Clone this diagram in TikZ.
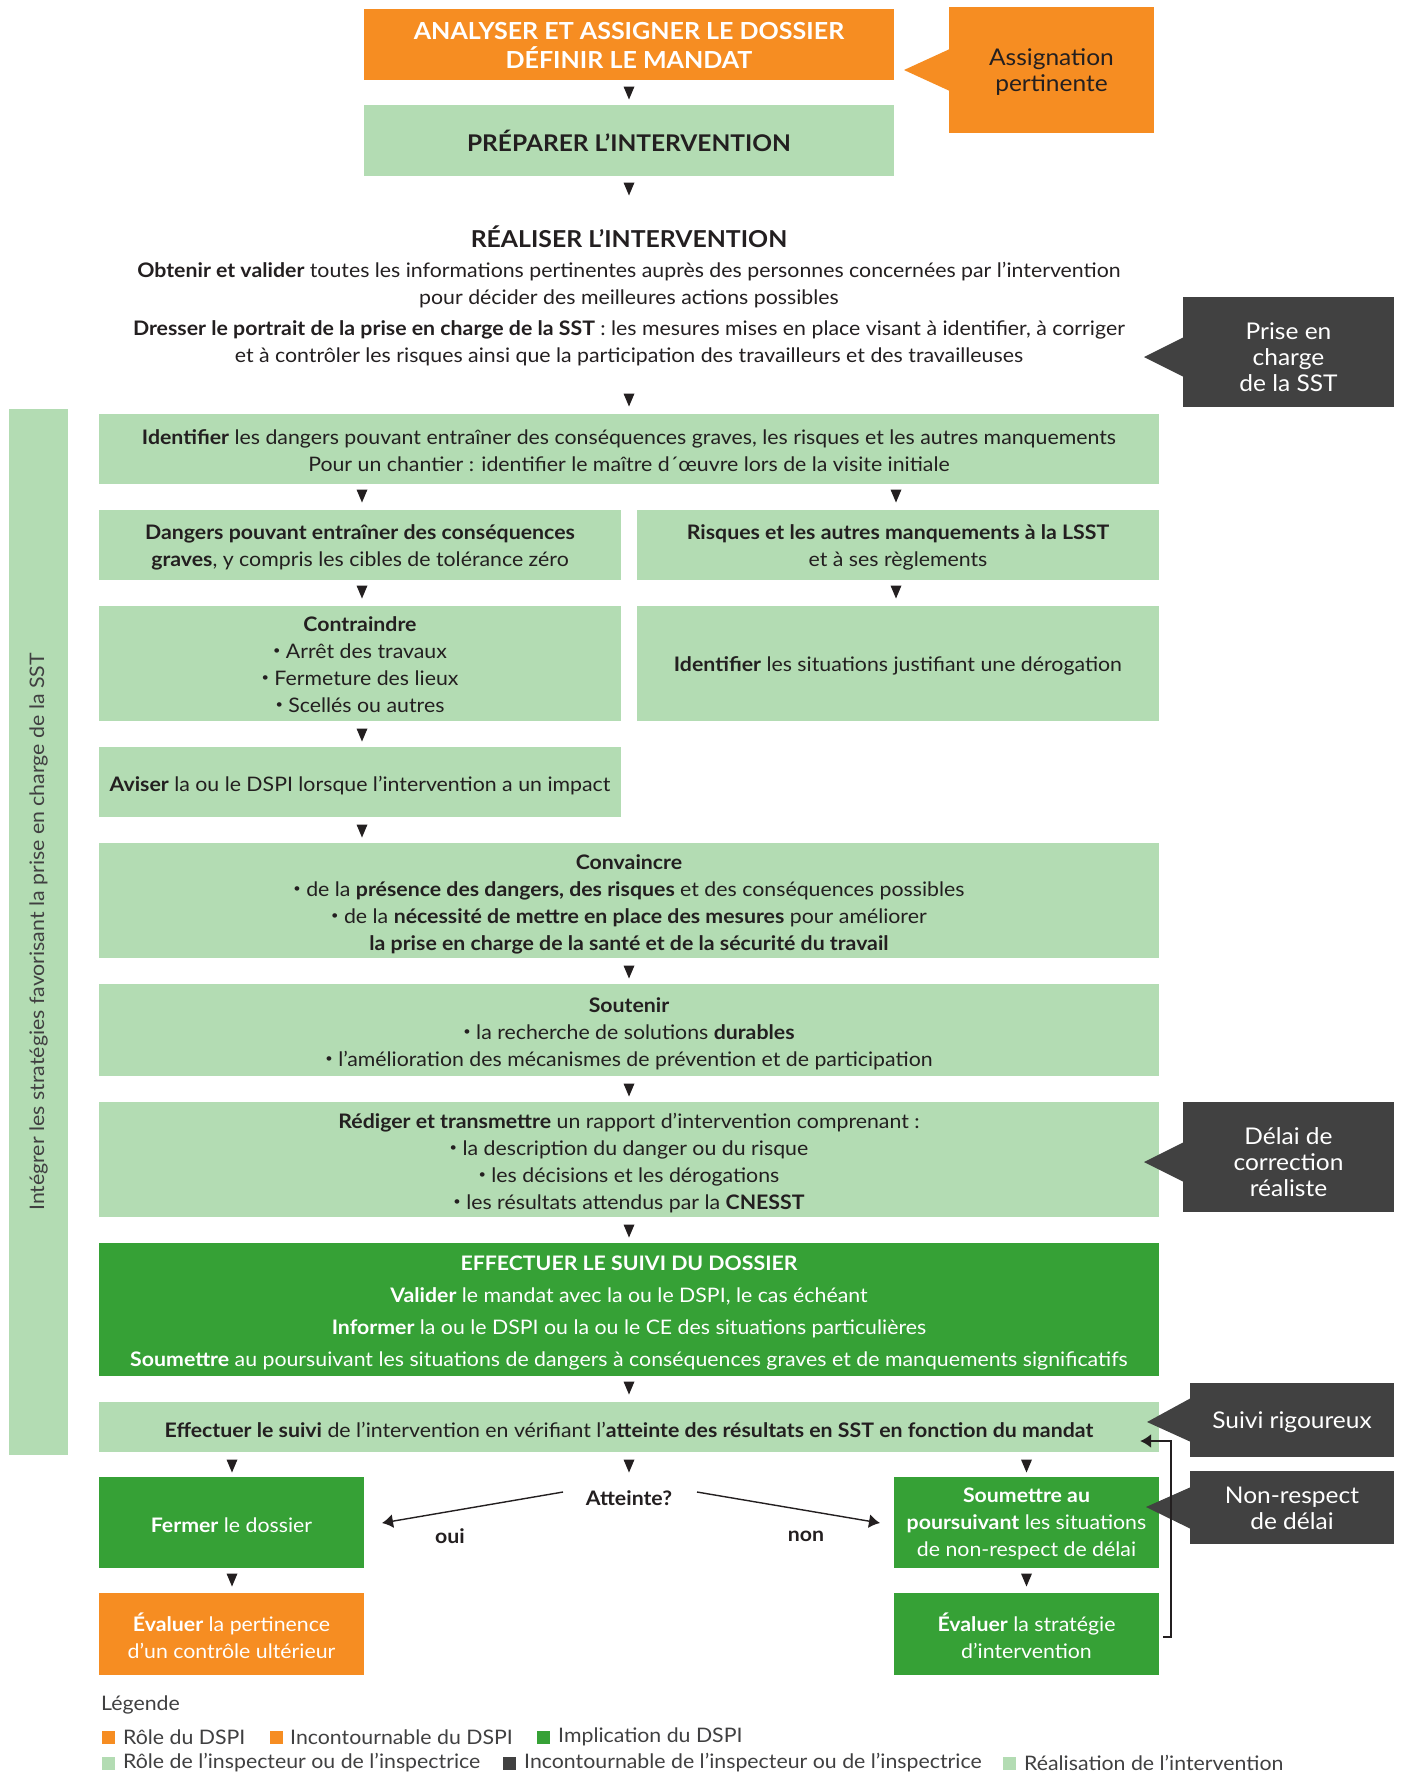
\documentclass[tikz,border=0pt]{standalone}
\usepackage{fontspec}
\setmainfont{Lato}[FakeStretch=1.065]
\usetikzlibrary{arrows.meta}
\definecolor{org}{HTML}{F68D22}
\definecolor{lgr}{HTML}{B3DCB3}
\definecolor{dgr}{HTML}{36A136}
\definecolor{dgy}{HTML}{414141}
\definecolor{txt}{HTML}{231F20}
\definecolor{gtx}{HTML}{404041}
\newcommand\bul{\raisebox{0.22em}{\fontsize{12}{12}\selectfont•}}
% \bx{style}{width}{height}{name}{x,y}{text shift down}{text}
\newcommand\bx[7]{%
  \node[#1, minimum width=#2pt, minimum height=#3pt] (#4) at (#5) {};
  \node[#1, fill=none] (#4-t) at ([yshift=-#6pt]#4.center) {#7};}
\tikzset{
  box/.style={rectangle, inner sep=0pt, align=center, text=txt},
  lgbox/.style={box, fill=lgr},
  dgbox/.style={box, fill=dgr, text=white},
  orbox/.style={box, fill=org, text=white},
  callout/.style={box, fill=dgy, text=white, font=\fontsize{23}{26}\selectfont},
  plain/.style={inner sep=0pt, align=center, text=txt},
  conn/.style={draw=txt, line width=1.4pt, -{Latex[length=11pt,width=14pt]}},
  dtri/.pic={\fill[txt] (-5.5,-6.5) -- (5.5,-6.5) -- (0,6.5) -- cycle;},
  legtx/.style={anchor=west, inner sep=0pt, text=gtx}
}
\begin{document}
\begin{tikzpicture}[x=1pt,y=-1pt,font=\fontsize{20}{27}\selectfont]
\useasboundingbox (0,0) rectangle (1405,1773);
\fill[white] (0,0) rectangle (1405,1773);

% top
\bx{orbox, font=\bfseries\fontsize{23.5}{29.5}\selectfont}{530}{71}{analyser}{629,44.5}{1}{ANALYSER ET ASSIGNER LE DOSSIER\\DÉFINIR LE MANDAT}
\pic at (629,93) {dtri};
\bx{lgbox, font=\bfseries\fontsize{23}{27}\selectfont}{530}{71}{preparer}{629,140.5}{0}{PRÉPARER L’INTERVENTION}
\pic at (629,189) {dtri};

% callout assignation
\bx{box, fill=org, text=txt, font=\fontsize{23}{26}\selectfont}{205}{126}{assign}{1051.5,70}{2.5}{Assignation\\pertinente}
\fill[org] (952,48) -- (904,70) -- (952,92) -- cycle;

% realiser
\node[plain, font=\bfseries\fontsize{23.3}{27}\selectfont] (realiser) at (629,237) {RÉALISER L’INTERVENTION};
\node[plain] (obtenir) at (629,285.5) {\textbf{Obtenir et valider} toutes les informations pertinentes auprès des personnes concernées par l’intervention\\pour décider des meilleures actions possibles};
\node[plain] (dresser) at (629,343.5) {\textbf{Dresser le portrait de la prise en charge de la SST} : les mesures mises en place visant à identifier, à corriger\\et à contrôler les risques ainsi que la participation des travailleurs et des travailleuses};
\pic at (629,400) {dtri};

\bx{callout}{211}{110}{prise}{1288.5,352}{5}{Prise en\\charge\\de la SST}
\fill[dgy] (1184,337) -- (1144,357) -- (1184,377) -- cycle;

% left bar
\node[lgbox, minimum width=59pt, minimum height=1046pt] (bar) at (38.5,932) {};
\node[plain, text=gtx, rotate=90] (bartext) at (bar.center) {Intégrer les stratégies favorisant la prise en charge de la SST};

% identifier
\bx{lgbox}{1060}{70}{ident}{629,449}{2}{\textbf{Identifier} les dangers pouvant entraîner des conséquences graves, les risques et les autres manquements\\Pour un chantier : identifier le maître d´œuvre lors de la visite initiale}
\pic at (362,496) {dtri};
\pic at (896,496) {dtri};

\bx{lgbox}{522}{70}{dangers}{360,545}{2.5}{\textbf{Dangers pouvant entraîner des conséquences}\\\textbf{graves}, y compris les cibles de tolérance zéro}
\bx{lgbox}{522}{70}{risques}{898,545}{2.5}{\textbf{Risques et les autres manquements à la LSST}\\et à ses règlements}
\pic at (362,592) {dtri};
\pic at (896,592) {dtri};

\bx{lgbox}{522}{115}{contraindre}{360,663.5}{1.5}{\textbf{Contraindre}\\\bul{} Arrêt des travaux\\\bul{} Fermeture des lieux\\\bul{} Scellés ou autres}
\bx{lgbox}{522}{115}{derog}{898,663.5}{2.5}{\textbf{Identifier} les situations justifiant une dérogation}
\pic at (362,735) {dtri};

\bx{lgbox}{522}{70}{aviser}{360,782}{3.5}{\textbf{Aviser} la ou le DSPI lorsque l’intervention a un impact}
\pic at (362,831) {dtri};

\bx{lgbox}{1060}{115}{convaincre}{629,900.5}{4}{\textbf{Convaincre}\\\bul{} de la \textbf{présence des dangers, des risques} et des conséquences possibles\\\bul{} de la \textbf{nécessité de mettre en place des mesures} pour améliorer\\\textbf{la prise en charge de la santé et de la sécurité du travail}}
\pic at (629,972) {dtri};

\bx{lgbox}{1060}{92}{soutenir}{629,1030}{4}{\textbf{Soutenir}\\\bul{} la recherche de solutions \textbf{durables}\\\bul{} l’amélioration des mécanismes de prévention et de participation}
\pic at (629,1090) {dtri};

\bx{lgbox}{1060}{115}{rediger}{629,1159.5}{4}{\textbf{Rédiger et transmettre} un rapport d’intervention comprenant :\\\bul{} la description du danger ou du risque\\\bul{} les décisions et les dérogations\\\bul{} les résultats attendus par la \textbf{CNESST}}
\bx{callout}{211}{110}{delai}{1288.5,1157}{5}{Délai de\\correction\\réaliste}
\fill[dgy] (1184,1142) -- (1144,1162) -- (1184,1182) -- cycle;
\pic at (629,1231) {dtri};

\bx{dgbox, font=\fontsize{20}{32}\selectfont}{1060}{133}{suividossier}{629,1309.5}{3}{\textbf{EFFECTUER LE SUIVI DU DOSSIER}\\\textbf{Valider} le mandat avec la ou le DSPI, le cas échéant\\\textbf{Informer} la ou le DSPI ou la ou le CE des situations particulières\\\textbf{Soumettre} au poursuivant les situations de dangers à conséquences graves et de manquements significatifs}
\pic at (629,1388) {dtri};

\bx{lgbox}{1060}{50}{suivi}{629,1427}{2.5}{\textbf{Effectuer le suivi} de l’intervention en vérifiant l’\textbf{atteinte des résultats en SST en fonction du mandat}}
\pic at (232,1466) {dtri};
\pic at (629,1466) {dtri};
\pic at (1026.5,1466) {dtri};

\bx{callout}{204}{74}{rigoureux}{1292,1420}{2.5}{Suivi rigoureux}
\fill[dgy] (1191,1398) -- (1147,1422) -- (1191,1442) -- cycle;

\bx{dgbox}{265}{91}{fermer}{231.5,1522.5}{2.5}{\textbf{Fermer} le dossier}
\bx{dgbox}{265}{91}{soumettre}{1026.5,1522.5}{1.5}{\textbf{Soumettre au}\\\textbf{poursuivant} les situations\\de non-respect de délai}
\bx{callout}{204}{73}{nonresp}{1292,1507.5}{1}{Non-respect\\de délai}
\fill[dgy] (1191,1487) -- (1146,1507) -- (1191,1529) -- cycle;

\node[plain, font=\bfseries\fontsize{20}{27}\selectfont] (atteinte) at (629,1498) {Atteinte?};
\coordinate (ouiS) at (563,1492);
\coordinate (ouiE) at (382,1523);
\coordinate (nonS) at (697,1492);
\coordinate (nonE) at (880,1523);
\draw[conn] (ouiS) -- (ouiE);
\draw[conn] (nonS) -- (nonE);
\node[plain, font=\bfseries\fontsize{20}{27}\selectfont] (oui) at (450,1536) {oui};
\node[plain, font=\bfseries\fontsize{20}{27}\selectfont] (non) at (806,1536) {non};

\pic at (232,1580) {dtri};
\pic at (1026.5,1580) {dtri};

\bx{orbox}{265}{82}{evalp}{231.5,1634}{1.5}{\textbf{Évaluer} la pertinence\\d’un contrôle ultérieur}
\bx{dgbox}{265}{82}{evals}{1026.5,1634}{1.5}{\textbf{Évaluer} la stratégie\\d’intervention}

% feedback
\coordinate (fbA) at (1171,1637);
\coordinate (fbB) at (1171,1441);
\draw[conn, line width=1.6pt] (evals.east |- fbA) ++(4,0) -- (fbA) -- (fbB) -- ([xshift=-19pt]suivi.east |- fbB);

% legend
\node[legtx] (legende) at (101,1705) {Légende};
\fill[org] (102,1731) rectangle (115,1744);
\node[legtx] (l1) at (123,1737) {Rôle du DSPI};
\fill[org] (270,1731) rectangle (283,1744);
\node[legtx] (l2) at (290,1737) {Incontournable du DSPI};
\fill[dgr] (537,1731) rectangle (550,1744);
\node[legtx] (l3) at (558,1737) {Implication du DSPI};
\fill[lgr] (102,1757) rectangle (115,1770);
\node[legtx] (l4) at (123,1763) {Rôle de l’inspecteur ou de l’inspectrice};
\fill[dgy] (503,1757) rectangle (516,1770);
\node[legtx] (l5) at (524,1763) {Incontournable de l’inspecteur ou de l’inspectrice};
\fill[lgr] (1003,1757) rectangle (1016,1770);
\node[legtx] (l6) at (1024,1763) {Réalisation de l’intervention};
\end{tikzpicture}
\end{document}
